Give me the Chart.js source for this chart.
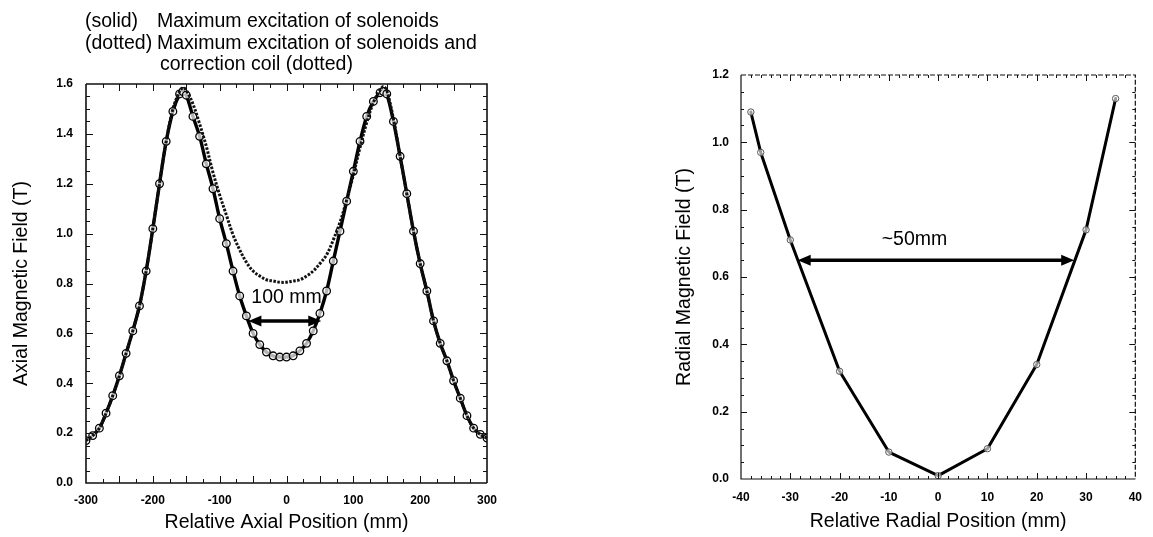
<!DOCTYPE html>
<html>
<head>
<meta charset="utf-8">
<script src="https://cdn.jsdelivr.net/npm/chart.js@4.4.1/dist/chart.umd.min.js"></script>
<style>
  html, body { margin: 0; padding: 0; background: #fff; width: 1153px; height: 537px; overflow: hidden; }
  .panel { position: absolute; top: 0; }
  #axialPanel { left: 0; width: 560px; height: 537px; }
  #radialPanel { left: 580px; width: 573px; height: 537px; }
</style>
</head>
<body>
<div class="panel" id="axialPanel"><canvas id="axial" width="560" height="537"></canvas></div>
<div class="panel" id="radialPanel"><canvas id="radial" width="573" height="537"></canvas></div>
<script>
// ---- Axial field profile (left panel) ----
const axialPositions = [-300,-290,-280,-270,-260,-250,-240,-230,-220,-210,-200,-190,-180,-170,-160,-155,-150,-140,-130,-120,-110,-100,-90,-80,-70,-60,-50,-40,-30,-20,-10,0,10,20,30,40,50,60,70,80,90,100,110,120,130,140,145,150,160,170,180,190,200,210,220,230,240,250,260,270,280,290,300];
// solenoids only (solid line with circles)
const axialSolenoids = [0.17,0.19,0.22,0.28,0.35,0.43,0.52,0.61,0.71,0.85,1.02,1.20,1.37,1.49,1.56,1.57,1.555,1.47,1.39,1.28,1.18,1.06,0.96,0.85,0.75,0.67,0.60,0.555,0.525,0.51,0.505,0.505,0.51,0.53,0.56,0.61,0.68,0.77,0.89,1.01,1.13,1.25,1.37,1.47,1.53,1.565,1.57,1.56,1.45,1.31,1.16,1.01,0.88,0.77,0.65,0.56,0.49,0.41,0.34,0.27,0.22,0.195,0.18];
// solenoids plus correction coil (dotted line)
const axialWithCorrection = [0.17,0.19,0.22,0.28,0.35,0.43,0.52,0.61,0.71,0.85,1.02,1.20,1.37,1.50,1.57,1.585,1.575,1.52,1.44,1.35,1.245,1.155,1.075,0.995,0.935,0.885,0.85,0.83,0.815,0.81,0.805,0.805,0.81,0.815,0.83,0.85,0.88,0.915,0.975,1.045,1.135,1.235,1.345,1.445,1.525,1.575,1.59,1.575,1.46,1.31,1.16,1.01,0.88,0.77,0.65,0.56,0.49,0.41,0.34,0.27,0.22,0.195,0.18];
const axialXTicks = [-300,-200,-100,0,100,200,300];
const axialYTicks = [0,0.2,0.4,0.6,0.8,1.0,1.2,1.4,1.6];
const axialSpan = { from: -57, to: 52, level: 0.65, label: '100 mm', labelX: 0, labelY: 0.745 };
const axialNotes = [
  ['(solid)', 'Maximum excitation of solenoids'],
  ['(dotted)', 'Maximum excitation of solenoids and'],
  ['', 'correction coil (dotted)']
];

// ---- Radial field profile (right panel) ----
const radialPositions = [-38,-36,-30,-20,-10,0,10,20,30,36];
const radialField = [1.09,0.97,0.71,0.32,0.08,0.01,0.09,0.34,0.74,1.13];
const radialXTicks = [-40,-30,-20,-10,0,10,20,30,40];
const radialYTicks = [0,0.2,0.4,0.6,0.8,1.0,1.2];
const radialSpan = { from: -28.5, to: 27.6, level: 0.65, label: '~50mm', labelX: -4.8, labelY: 0.71 };

const FONT = '"Liberation Sans", Arial, Helvetica, sans-serif';
const TEXT_SIZE = 19.5;
const toPoints = (xs, ys) => xs.map((x, i) => ({ x, y: ys[i] }));

// Box frame with inward ticks on all four sides
function frameTicks(cfg) {
  return {
    id: 'frameTicks',
    afterDatasetsDraw(chart) {
      const { ctx, chartArea: a, scales: { x, y } } = chart;
      ctx.save();
      ctx.strokeStyle = '#111';
      ctx.lineWidth = cfg.frameWidth;
      ctx.beginPath();
      ctx.moveTo(a.left, a.top); ctx.lineTo(a.left, a.bottom); ctx.lineTo(a.right, a.bottom);
      ctx.stroke();
      ctx.setLineDash(cfg.farDash);
      ctx.beginPath();
      ctx.moveTo(a.left, a.top); ctx.lineTo(a.right, a.top); ctx.lineTo(a.right, a.bottom);
      ctx.stroke();
      ctx.setLineDash([]);
      ctx.lineWidth = 1;
      const isMajor = (v, step) => Math.abs(v / step - Math.round(v / step)) < 1e-6;
      const seg = (x1, y1, x2, y2) => { ctx.beginPath(); ctx.moveTo(x1, y1); ctx.lineTo(x2, y2); ctx.stroke(); };
      const nx = Math.round((x.max - x.min) / cfg.xMinor);
      for (let i = 1; i < nx; i++) {
        const v = x.min + i * cfg.xMinor;
        const px = Math.round(x.getPixelForValue(v)) + 0.5;
        const len = isMajor(v, cfg.xMajor) ? cfg.majorLen : cfg.minorLen;
        seg(px, a.bottom, px, a.bottom - len);
        seg(px, a.top, px, a.top + len);
      }
      const ny = Math.round((y.max - y.min) / cfg.yMinor);
      for (let i = 1; i < ny; i++) {
        const v = y.min + i * cfg.yMinor;
        const py = Math.round(y.getPixelForValue(v)) + 0.5;
        const len = isMajor(v, cfg.yMajor) ? cfg.majorLen : cfg.minorLen;
        seg(a.left, py, a.left + len, py);
        seg(a.right, py, a.right - len, py);
      }
      ctx.restore();
    }
  };
}

// Double-headed width arrow with its label, placed in data coordinates
function widthArrow(span, fontSize) {
  return {
    id: 'widthArrow',
    afterDatasetsDraw(chart) {
      const { ctx, scales: { x, y } } = chart;
      const x1 = x.getPixelForValue(span.from), x2 = x.getPixelForValue(span.to);
      const py = y.getPixelForValue(span.level);
      const head = 13, half = 5.5;
      ctx.save();
      ctx.fillStyle = '#000';
      ctx.strokeStyle = '#000';
      ctx.lineWidth = 3.5;
      ctx.beginPath(); ctx.moveTo(x1 + head - 2, py); ctx.lineTo(x2 - head + 2, py); ctx.stroke();
      ctx.beginPath(); ctx.moveTo(x1, py); ctx.lineTo(x1 + head, py - half); ctx.lineTo(x1 + head, py + half); ctx.closePath(); ctx.fill();
      ctx.beginPath(); ctx.moveTo(x2, py); ctx.lineTo(x2 - head, py - half); ctx.lineTo(x2 - head, py + half); ctx.closePath(); ctx.fill();
      ctx.font = fontSize + 'px ' + FONT;
      ctx.textAlign = 'center';
      ctx.textBaseline = 'middle';
      ctx.fillText(span.label, x.getPixelForValue(span.labelX), y.getPixelForValue(span.labelY));
      ctx.restore();
    }
  };
}

// Line-style key written above the axial panel
const notesPlugin = {
  id: 'notes',
  afterDraw(chart) {
    const { ctx } = chart;
    ctx.save();
    ctx.font = TEXT_SIZE + 'px ' + FONT;
    ctx.fillStyle = '#000';
    ctx.textBaseline = 'alphabetic';
    const baselines = [27, 49, 70];
    axialNotes.forEach((row, i) => {
      if (row[0]) ctx.fillText(row[0], 85, baselines[i]);
      ctx.fillText(row[1], i === 2 ? 160 : 157, baselines[i]);
    });
    ctx.restore();
  }
};

function baseScales(o) {
  const tickFont = { family: FONT, size: 12, weight: 'bold' };
  const titleFont = { family: FONT, size: TEXT_SIZE };
  return {
    x: {
      type: 'linear', min: o.xMin, max: o.xMax,
      afterBuildTicks: s => { s.ticks = o.xTicks.map(v => ({ value: v })); },
      afterFit: s => { s.height = o.xHeight; },
      grid: { display: false, drawTicks: false },
      border: { display: false },
      ticks: { color: '#000', font: tickFont, padding: o.xPad, maxRotation: 0, autoSkip: false,
               callback: v => String(v) },
      title: { display: true, text: o.xTitle, color: '#000', font: titleFont, padding: { top: 0, bottom: o.xTitlePad } }
    },
    y: {
      type: 'linear', min: o.yMin, max: o.yMax,
      afterBuildTicks: s => { s.ticks = o.yTicks.map(v => ({ value: v })); },
      afterFit: s => { s.width = o.yWidth; },
      grid: { display: false, drawTicks: false },
      border: { display: false },
      ticks: { color: '#000', font: tickFont, padding: o.yPad, autoSkip: false,
               callback: v => Number(v).toFixed(1) },
      title: { display: true, text: o.yTitle, color: '#000', font: titleFont, padding: { top: o.yTitlePad, bottom: 0 } }
    }
  };
}

const commonOptions = {
  responsive: false,
  animation: false,
  devicePixelRatio: 1,
  plugins: { legend: { display: false }, tooltip: { enabled: false }, title: { display: false } },
  elements: { line: { borderJoinStyle: 'round', borderCapStyle: 'round' } }
};

new Chart(document.getElementById('axial'), {
  type: 'line',
  data: {
    datasets: [
      {
        label: 'solenoids and correction coil',
        data: toPoints(axialPositions, axialWithCorrection),
        borderColor: '#111', borderWidth: 3, borderDash: [2.5, 1.5], borderCapStyle: 'butt',
        tension: 0.35, pointRadius: 0
      },
      {
        label: 'solenoids',
        data: toPoints(axialPositions, axialSolenoids),
        borderColor: '#000', borderWidth: 3.4, tension: 0.35,
        pointRadius: 3.8, pointBorderWidth: 1.3, pointBorderColor: '#000', pointBackgroundColor: 'rgba(255,255,255,0.7)'
      }
    ]
  },
  options: Object.assign({}, commonOptions, {
    layout: { padding: { left: 0, top: 84, right: 73, bottom: 0 } },
    scales: baseScales({
      xMin: -300, xMax: 300, xTicks: axialXTicks, xHeight: 54, xPad: 10, xTitlePad: 3,
      xTitle: 'Relative Axial Position (mm)',
      yMin: 0, yMax: 1.6, yTicks: axialYTicks, yWidth: 86, yPad: 13, yTitlePad: 10,
      yTitle: 'Axial Magnetic Field (T)'
    })
  }),
  plugins: [
    frameTicks({ frameWidth: 1.6, farDash: [], xMinor: 25, xMajor: 50, yMinor: 0.05, yMajor: 0.2, majorLen: 7, minorLen: 4 }),
    widthArrow(axialSpan, TEXT_SIZE),
    notesPlugin
  ]
});

new Chart(document.getElementById('radial'), {
  type: 'line',
  data: {
    datasets: [
      {
        label: 'radial field',
        data: toPoints(radialPositions, radialField),
        borderColor: '#000', borderWidth: 3, tension: 0,
        pointRadius: 3.2, pointBorderWidth: 1, pointBorderColor: '#555', pointBackgroundColor: 'rgba(255,255,255,0.6)'
      }
    ]
  },
  options: Object.assign({}, commonOptions, {
    layout: { padding: { left: 0, top: 75, right: 10, bottom: 0 } },
    scales: baseScales({
      xMin: -40, xMax: 40, xTicks: radialXTicks, xHeight: 58, xPad: 11, xTitlePad: 4,
      xTitle: 'Relative Radial Position (mm)',
      yMin: 0, yMax: 1.2, yTicks: radialYTicks, yWidth: 161, yPad: 12, yTitlePad: 93,
      yTitle: 'Radial Magnetic Field (T)'
    })
  }),
  plugins: [
    frameTicks({ frameWidth: 1.2, farDash: [5, 2], xMinor: 2, xMajor: 10, yMinor: 0.05, yMajor: 0.2, majorLen: 6, minorLen: 3 }),
    widthArrow(radialSpan, TEXT_SIZE)
  ]
});
</script>
</body>
</html>
